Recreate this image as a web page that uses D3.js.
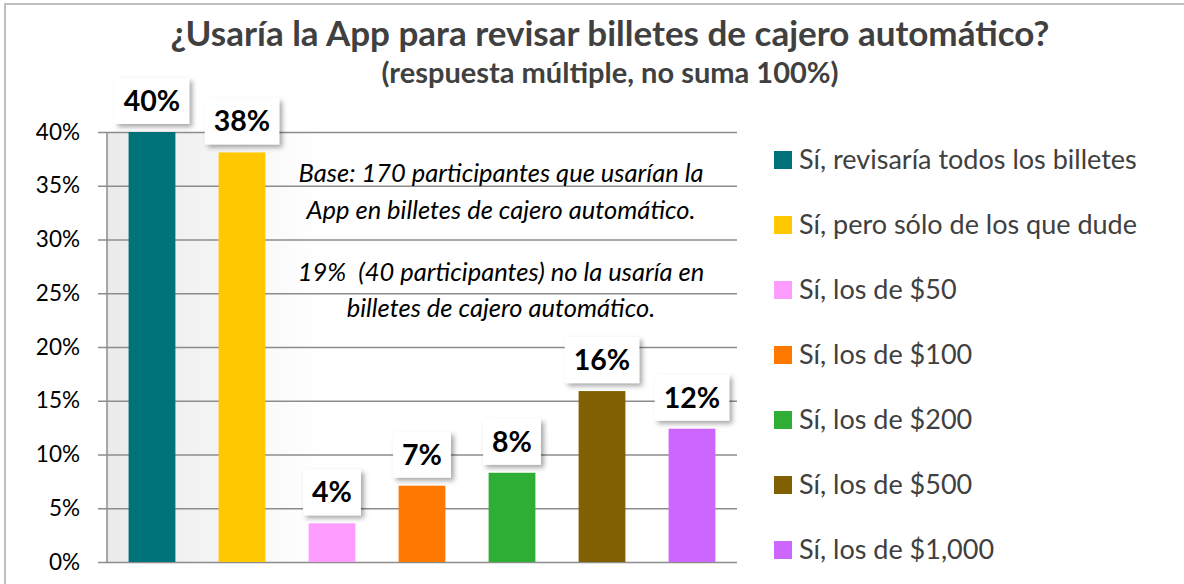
<!DOCTYPE html>
<html>
<head>
<meta charset="utf-8">
<script src="https://cdn.jsdelivr.net/npm/d3@7"></script>
<style>
  body { margin: 0; background: #fff; }
  svg text { font-family: Lato, "Open Sans", sans-serif; white-space: pre; }
</style>
</head>
<body>
<div id="chart"></div>
<script>
var categories = [
    "Sí, revisaría todos los billetes",
    "Sí, pero sólo de los que dude",
    "Sí, los de $50",
    "Sí, los de $100",
    "Sí, los de $200",
    "Sí, los de $500",
    "Sí, los de $1,000"
];
var values = [40.0, 38.1, 3.6, 7.1, 8.3, 15.9, 12.4];
var labels = ["40%", "38%", "4%", "7%", "8%", "16%", "12%"];
var colors = ["#00727a", "#ffc800", "#ff9cff", "#ff7800", "#2eae34", "#806000", "#cc66ff"];
var yTicks = [0, 5, 10, 15, 20, 25, 30, 35, 40];
var noteLines = [
    "Base: 170 participantes que usarían la",
    "App en billetes de cajero automático.",
    "19%  (40 participantes) no la usaría en",
    "billetes de cajero automático."
];

var width = 1184;
var height = 584;
var plot = {left: 107, right: 737, top: 132, bottom: 562};

var x = d3.scaleBand()
	.domain(categories)
	.range([plot.left, plot.right])
	.paddingInner(0.48)
	.paddingOuter(0.24);
var y = d3.scaleLinear()
	.domain([0, 40])
	.range([plot.bottom, plot.top]);

var svg = d3.select('#chart')
	.append('svg')
	.attr('width', width)
	.attr('height', height);

var defs = svg.append('defs');
var grad = defs.append('linearGradient')
	.attr('id', 'bg')
	.attr('x1', '0').attr('x2', '1').attr('y1', '0').attr('y2', '0');
grad.append('stop').attr('offset', '0%').attr('stop-color', '#ebebeb');
grad.append('stop').attr('offset', '15%').attr('stop-color', '#f3f3f3');
grad.append('stop').attr('offset', '34%').attr('stop-color', '#ffffff');
var shadow = defs.append('filter')
	.attr('id', 'shadow')
	.attr('x', '-30%').attr('y', '-30%')
	.attr('width', '170%').attr('height', '170%');
shadow.append('feDropShadow')
	.attr('dx', 3).attr('dy', 3)
	.attr('stdDeviation', 2.5)
	.attr('flood-color', '#000')
	.attr('flood-opacity', 0.35);

// outer frame
svg.append('rect')
	.attr('x', 5).attr('y', 4)
	.attr('width', width + 10).attr('height', height + 10)
	.attr('fill', '#fff')
	.attr('stroke', '#bfbfbf')
	.attr('stroke-width', 2);

svg.append('text')
	.attr('x', 610).attr('y', 46)
	.attr('text-anchor', 'middle')
	.attr('font-size', 35)
	.attr('font-weight', 'bold')
	.attr('fill', '#404040')
	.text('¿Usaría la App para revisar billetes de cajero automático?');
svg.append('text')
	.attr('x', 610).attr('y', 83)
	.attr('text-anchor', 'middle')
	.attr('font-size', 29)
	.attr('font-weight', 'bold')
	.attr('fill', '#404040')
	.text('(respuesta múltiple, no suma 100%)');

svg.append('rect')
	.attr('x', plot.left).attr('y', plot.top)
	.attr('width', plot.right - plot.left)
	.attr('height', plot.bottom - plot.top)
	.attr('fill', 'url(#bg)');

var yAxis = svg.append('g')
	.attr('transform', 'translate(' + plot.left + ',0)')
	.call(d3.axisLeft(y)
	    .tickValues(yTicks)
	    .tickSize(-(plot.right - plot.left))
	    .tickPadding(27)
	    .tickFormat(function (d) {
		return d + '%';
	    }));
yAxis.select('.domain')
	.attr('stroke', '#8c8c8c')
	.attr('stroke-width', 1.5)
	.attr('d', 'M0,' + plot.top + 'V' + plot.bottom);
yAxis.selectAll('.tick line')
	.attr('x1', -9)
	.attr('stroke', '#8c8c8c')
	.attr('stroke-width', 1.5);
yAxis.selectAll('.tick text')
	.attr('font-size', 22.5)
	.attr('fill', '#000');

svg.append('g')
	.selectAll('text')
	.data(noteLines)
	.enter()
	.append('text')
	.attr('x', 501)
	.attr('y', function (d, i) {
	    return [182, 219, 281, 317][i];
	})
	.attr('text-anchor', 'middle')
	.attr('font-size', 25.5)
	.attr('font-style', 'italic')
	.attr('fill', '#000')
	.text(function (d) {
	    return d;
	});

svg.append('g')
	.selectAll('rect')
	.data(values)
	.enter()
	.append('rect')
	.attr('x', function (d, i) {
	    return x(categories[i]);
	})
	.attr('y', function (d) {
	    return y(d);
	})
	.attr('width', x.bandwidth())
	.attr('height', function (d) {
	    return y(0) - y(d);
	})
	.attr('fill', function (d, i) {
	    return colors[i];
	});

// data labels in white boxes with a shadow
var lab = svg.append('g')
	.selectAll('g')
	.data(values)
	.enter()
	.append('g')
	.attr('transform', function (d, i) {
	    return 'translate(' + (x(categories[i]) + x.bandwidth() / 2) + ',' + (y(d) - 8) + ')';
	});
lab.append('rect')
	.attr('y', -46)
	.attr('height', 46)
	.attr('fill', '#fff')
	.attr('filter', 'url(#shadow)');
lab.append('text')
	.attr('y', -13)
	.attr('text-anchor', 'middle')
	.attr('font-size', 28.5)
	.attr('font-weight', 'bold')
	.attr('fill', '#000')
	.text(function (d, i) {
	    return labels[i];
	});
lab.each(function () {
    var g = d3.select(this);
    var w = g.select('text').node().getComputedTextLength() + 18;
    g.select('rect').attr('x', -w / 2).attr('width', w);
});

var legend = svg.append('g')
	.selectAll('g')
	.data(categories)
	.enter()
	.append('g')
	.attr('transform', function (d, i) {
	    return 'translate(774,' + (160 + i * 65) + ')';
	});
legend.append('rect')
	.attr('y', -9)
	.attr('width', 18)
	.attr('height', 18)
	.attr('fill', function (d, i) {
	    return colors[i];
	});
legend.append('text')
	.attr('x', 25)
	.attr('y', 9)
	.attr('font-size', 27)
	.attr('fill', '#404040')
	.text(function (d) {
	    return d;
	});
</script>
</body>
</html>
